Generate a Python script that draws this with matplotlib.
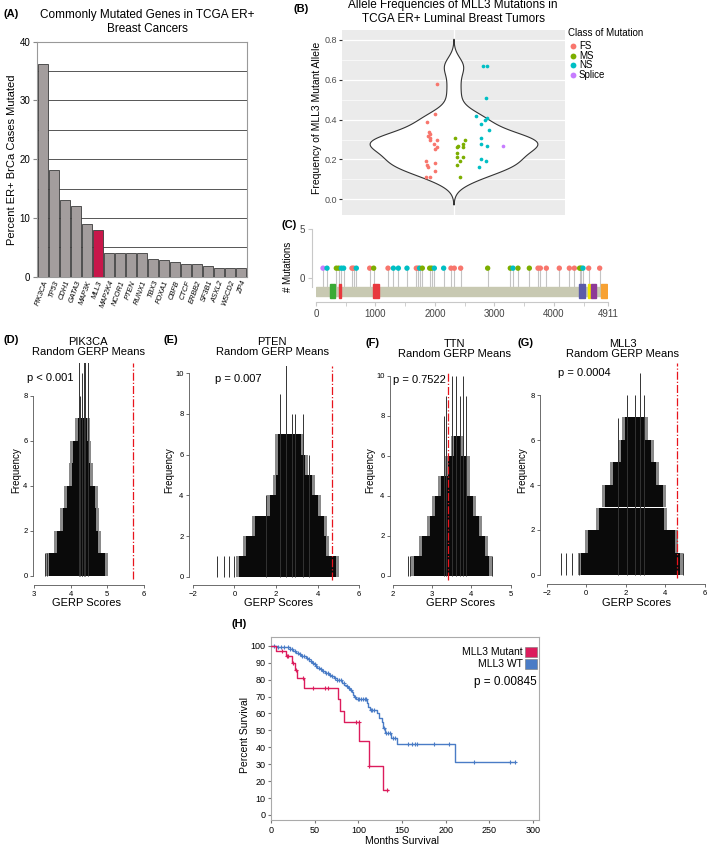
import numpy as np
import matplotlib.pyplot as plt
from matplotlib.patches import Rectangle
from matplotlib.lines import Line2D

plt.rcParams['font.family'] = ['Liberation Sans', 'DejaVu Sans']

W, H = 709, 847

# ---- (A) commonly mutated genes
GENES = ['PIK3CA', 'TP53', 'CDH1', 'GATA3', 'MAP3K', 'MLL3', 'MAP2K4', 'NCOR1', 'PTEN', 'RUNX1',
         'TBX3', 'FOXA1', 'CBFB', 'CTCF', 'ERBB2', 'SF3B1', 'ASXL2', 'WSCD2', 'ZP4']
PCT_MUTATED = [36.2, 18.1, 13.1, 12.1, 9.0, 8.0, 4.0, 4.0, 4.0, 4.0,
               3.0, 2.85, 2.5, 2.1, 2.1, 1.9, 1.5, 1.5, 1.5]

# ---- (B) allele frequencies (value, jitter)
FS_VAF = [0.58, 0.43, 0.39, 0.34, 0.33, 0.32, 0.31, 0.30, 0.30, 0.28, 0.26, 0.25, 0.19, 0.18,
          0.17, 0.16, 0.14, 0.11, 0.11]
FS_JIT = [-0.5, -0.55, -0.8, -0.75, -0.72, -0.77, -0.72, -0.7, -0.5, -0.6, -0.5, -0.55, -0.82,
          -0.55, -0.8, -0.77, -0.55, -0.82, -0.7]
MS_VAF = [0.31, 0.30, 0.28, 0.27, 0.26, 0.26, 0.23, 0.21, 0.21, 0.19, 0.17, 0.11]
MS_JIT = [0.05, 0.35, 0.3, 0.15, 0.12, 0.28, 0.1, 0.1, 0.28, 0.2, 0.1, 0.2]
NS_VAF = [0.67, 0.67, 0.51, 0.42, 0.41, 0.40, 0.38, 0.35, 0.31, 0.28, 0.27, 0.20, 0.19, 0.16]
NS_JIT = [0.9, 1.0, 0.97, 0.68, 1.02, 0.95, 0.82, 1.07, 0.84, 0.82, 1.02, 0.84, 0.97, 0.76]
SPLICE_VAF = [0.27]
SPLICE_JIT = [1.48]
CLASS_COLORS = {'FS': '#F8766D', 'MS': '#7CAE00', 'NS': '#00BFC4', 'Splice': '#C77CFF'}

# ---- (C) lollipop
PROTEIN_LEN = 4911
MUT_POS = [118, 185, 342, 381, 426, 465, 605, 633, 678, 903, 970, 1211, 1301, 1385, 1530,
           1687, 1715, 1743, 1788, 1912, 1945, 1990, 2147, 2270, 2326, 2433, 2887, 3268, 3313,
           3397, 3588, 3734, 3773, 3874, 4092, 4261, 4345, 4434, 4460, 4490, 4586, 4771]
MUT_CLASS = ['Splice', 'NS', 'MS', 'MS', 'NS', 'NS', 'FS', 'FS', 'NS', 'FS', 'MS', 'FS', 'NS',
             'NS', 'NS', 'FS', 'FS', 'NS', 'MS', 'MS', 'MS', 'NS', 'NS', 'FS', 'FS', 'FS', 'MS',
             'MS', 'NS', 'MS', 'MS', 'FS', 'FS', 'FS', 'FS', 'FS', 'FS', 'MS', 'MS', 'NS', 'FS',
             'FS']
MUT_COUNT = [1] * len(MUT_POS)
DOM_START = [241, 381, 959, 4418, 4569, 4630, 4799]
DOM_END = [325, 426, 1054, 4518, 4614, 4703, 4894]
DOM_COLORS = ['#3aaa35', '#e8383d', '#e8383d', '#5b5ba8', '#f2e600', '#8e3a96', '#f7a133']

# ---- (D-G) random GERP means: extent of each count level, spikes, observed mean
D_LO = [3.42, 3.63, 3.80, 3.90, 4.04, 4.06, 4.19]
D_HI = [4.94, 4.74, 4.70, 4.65, 4.53, 4.47, 4.44]
D_SPIKE_X = [3.30, 3.36, 4.22, 4.26, 4.30, 4.35, 4.40, 4.47, 4.32]
D_SPIKE_H = [1, 1, 10, 8, 9, 10, 10, 10, 8]
D_OBS = 5.7

E_LO = [0.2, 0.55, 1.0, 1.7, 2.0, 2.1, 2.1]
E_HI = [4.88, 4.4, 4.3, 4.0, 3.75, 3.4, 3.2]
E_SPIKE_X = [-0.85, -0.5, -0.25, 0.0, 1.5, 2.2, 2.5, 2.75, 2.9, 3.3, 3.6]
E_SPIKE_H = [1, 1, 1, 1, 4, 9, 10.4, 8, 8, 8, 6]
E_OBS = 4.72

F_LO = [2.55, 2.75, 2.95, 3.08, 3.22, 3.40, 3.56]
F_HI = [4.45, 4.35, 4.20, 4.05, 3.90, 3.88, 3.73]
F_SPIKE_X = [2.40, 2.45, 3.30, 3.36, 3.50, 3.62, 3.70, 3.78, 3.86, 4.52]
F_SPIKE_H = [1, 1, 8, 9, 10, 10, 9, 10, 9, 1]
F_OBS = 3.40

G_LO = [-0.25, 0.1, 0.64, 0.95, 1.35, 1.76, 1.95]
G_HI = [4.75, 4.5, 3.95, 3.9, 3.5, 3.28, 2.95]
G_SPIKE_X = [-1.26, -1.0, -0.7, -0.35, 1.6, 2.05, 2.45, 2.7, 2.9, 4.87]
G_SPIKE_H = [1, 1, 1, 1, 7, 8, 8, 9, 8, 1]
G_OBS = 4.6

# ---- (H) Kaplan-Meier
MUT_T = [0, 5.7, 17, 23.5, 27, 30, 37.5, 76.5, 79, 83, 101, 112, 127.7, 133.5]
MUT_S = [100, 97, 93.7, 89.7, 85.4, 80.9, 75.3, 68.6, 61.7, 54.8, 43.8, 29.2, 14.6, 14.6]
MUT_CENS = [13, 18, 20, 25.5, 29, 37, 48, 61.5, 65, 97.5, 100.5, 112.5, 133]
WT_T = [0, 6.5, 16, 21.6, 25.4, 29, 32, 34, 40.5, 42.4, 44, 47, 49, 51, 53, 56, 58, 61.5, 66,
        69, 72, 75, 81, 84, 86, 88.5, 90.5, 92.4, 94, 95.4, 97, 110, 111.5, 113.4, 121.8,
        123.7, 126.7, 128.6, 130.5, 137.4, 144, 210, 279.5]
WT_S = [100, 99.5, 99, 98, 97, 96, 95, 94, 93, 92, 91, 90, 89, 88, 87, 86, 85, 84, 83,
        82, 81, 79.5, 78, 77, 76, 75, 74, 72.5, 71, 70, 68.8, 66, 64, 62, 60,
        57.5, 55, 51.6, 48.5, 45.5, 41.7, 31.5, 31.5]
WT_CENS = [3, 8, 12, 15, 19, 22, 24, 27, 31, 33, 36, 38, 41, 43, 46, 48, 50, 52, 55, 57, 60,
           63, 65, 68, 70, 73, 76, 78, 80, 83, 87, 89, 91, 96, 99, 101, 103, 105, 107, 109,
           114, 116, 118, 129, 132, 134, 136, 140, 142, 157, 161, 165, 167.6, 187, 204,
           232.5, 273.8, 278.7]

RED = '#dc1c5c'
BLUE = '#4a7cc6'

fig = plt.figure(figsize=(W / 100, H / 100), dpi=100)


def px_axes(left, top, right, bottom):
    return fig.add_axes([left / W, 1 - bottom / H, (right - left) / W, (bottom - top) / H])


def ftext(x, y, s, **kw):
    kw.setdefault('va', 'center')
    fig.text(x / W, 1 - y / H, s, **kw)


# ================= (A)
ax = px_axes(36.7, 41.7, 246.7, 276.7)
bar_colors = ['#c8174a' if g == 'MLL3' else '#a39d9d' for g in GENES]
ax.bar(range(len(GENES)), PCT_MUTATED, width=0.9, color=bar_colors, edgecolor='#3a3a3a',
       linewidth=0.6, zorder=3)
for yv in range(5, 40, 5):
    ax.axhline(yv, color='#555555', lw=0.7, zorder=1)
ax.set_xlim(-0.55, len(GENES) - 0.45)
ax.set_ylim(0, 40)
ax.set_yticks([0, 10, 20, 30, 40])
ax.set_xticks(range(len(GENES)))
ax.set_xticklabels(GENES, rotation=70, ha='right', rotation_mode='anchor', fontsize=5.3,
                   style='italic')
ax.tick_params(axis='x', length=0, pad=2)
ax.tick_params(axis='y', labelsize=7, length=3, color='#888888', pad=1.5)
for s in ax.spines.values():
    s.set_color('#999999')
    s.set_linewidth(0.8)
ftext(3, 14, '(A)', fontsize=8, fontweight='bold')
ftext(147, 22, 'Commonly Mutated Genes in TCGA ER+\nBreast Cancers', ha='center', fontsize=8.5,
      linespacing=1.15)
ftext(12, 160, 'Percent ER+ BrCa Cases Mutated', ha='center', rotation=90, fontsize=8)

# ================= (B)
ax = px_axes(342, 30, 565, 215)
ax.set_facecolor('#ebebeb')
vals = np.array(FS_VAF + MS_VAF + NS_VAF + SPLICE_VAF)
iqr = np.quantile(vals, 0.75) - np.quantile(vals, 0.25)
bw = 0.9 * min(vals.std(ddof=1), iqr / 1.34) * len(vals) ** -0.2
grid = np.linspace(vals.min() - 3 * bw, vals.max() + 3 * bw, 400)
dens = np.exp(-0.5 * ((grid[:, None] - vals[None, :]) / bw) ** 2).sum(axis=1)
half = dens / dens.max() * 2.52
ax.fill_betweenx(grid, -half, half, facecolor='white', edgecolor='#333333', lw=0.8, zorder=2)
for cls, v, j in [('FS', FS_VAF, FS_JIT), ('MS', MS_VAF, MS_JIT), ('NS', NS_VAF, NS_JIT),
                  ('Splice', SPLICE_VAF, SPLICE_JIT)]:
    ax.scatter(j, v, s=7, color=CLASS_COLORS[cls], linewidths=0, zorder=3)
ax.set_xlim(-3.35, 3.35)
ax.set_ylim(-0.079, 0.85)
ax.set_yticks([0, 0.2, 0.4, 0.6, 0.8])
ax.set_yticklabels(['0.0', '0.2', '0.4', '0.6', '0.8'])
ax.set_yticks([0.1, 0.3, 0.5, 0.7], minor=True)
ax.set_xticks([0])
ax.set_xticklabels([''])
ax.grid(which='major', color='white', lw=0.9, zorder=0)
ax.grid(which='minor', axis='y', color='white', lw=0.45, zorder=0)
ax.set_axisbelow(True)
ax.tick_params(axis='y', which='major', labelsize=6.5, labelcolor='#4d4d4d', length=2,
               color='#333333', pad=1.5)
ax.tick_params(which='minor', length=0)
ax.tick_params(axis='x', length=0)
for s in ax.spines.values():
    s.set_visible(False)
ftext(293, 9, '(B)', fontsize=8, fontweight='bold')
ftext(453, 12, 'Allele Frequencies of MLL3 Mutations in\nTCGA ER+ Luminal Breast Tumors',
      ha='center', fontsize=8.5, linespacing=1.15)
ftext(317, 118, 'Frequency of MLL3 Mutant Allele', ha='center', rotation=90, fontsize=7.5)
ftext(568, 33, 'Class of Mutation', fontsize=7)
for i, cls in enumerate(['FS', 'MS', 'NS', 'Splice']):
    yy = 46 + i * 9.6
    fig.add_artist(Line2D([572.7 / W], [1 - yy / H], marker='o', ms=4.2, ls='none',
                          color=CLASS_COLORS[cls], markeredgewidth=0,
                          transform=fig.transFigure))
    ftext(579, yy, cls, fontsize=7)

# ================= (C)
ax = px_axes(316, 226, 608, 302)
ax.set_xlim(0, PROTEIN_LEN)
ax.set_ylim(-2.45, 5.3)
ax.add_patch(Rectangle((0, -1.81), PROTEIN_LEN, 0.92, color='#c8c9b2', zorder=1))
for s0, e0, c in zip(DOM_START, DOM_END, DOM_COLORS):
    ax.add_patch(Rectangle((s0, -2.0), e0 - s0, 1.42, color=c, zorder=2))
ax.vlines(MUT_POS, -0.89, MUT_COUNT, color='#c4c4c4', lw=0.8, zorder=0)
ax.scatter(MUT_POS, MUT_COUNT, s=15, c=[CLASS_COLORS[c] for c in MUT_CLASS], linewidths=0,
           zorder=3)
ax.spines['top'].set_visible(False)
ax.spines['right'].set_visible(False)
ax.spines['left'].set_position(('outward', 3))
ax.spines['left'].set_bounds(-0.9, 5)
ax.spines['bottom'].set_bounds(0, PROTEIN_LEN)
for s in ('left', 'bottom'):
    ax.spines[s].set_color('#c8c8c8')
    ax.spines[s].set_linewidth(0.8)
ax.set_yticks([0, 5])
ax.set_xticks([0, 1000, 2000, 3000, 4000, PROTEIN_LEN])
ax.set_xticks(np.arange(500, 4600, 1000), minor=True)
ax.tick_params(labelsize=7, labelcolor='#444444', color='#c8c8c8', length=3, pad=2)
ax.tick_params(which='minor', color='#c8c8c8', length=3)
ftext(282, 225, '(C)', fontsize=8, fontweight='bold')
ftext(288, 267, '# Mutations', ha='center', rotation=90, fontsize=7)

# ================= (D-G)
hist_panels = [
    dict(tag='(D)', gene='PIK3CA', p='p < 0.001', lo=D_LO, hi=D_HI, sx=D_SPIKE_X, sh=D_SPIKE_H,
         obs=D_OBS, box=(33, 363, 150, 585), xmap=(3, 34, 36.67), ymap=(0, 575.7, 22.5),
         xt=[3, 4, 5, 6], yt=[0, 2, 4, 6, 8], tag_x=3, tag_y=340, tx=88, ty=347,
         px=27, py=378, fx=16, gx=87),
    dict(tag='(E)', gene='PTEN', p='p = 0.007', lo=E_LO, hi=E_HI, sx=E_SPIKE_X, sh=E_SPIKE_H,
         obs=E_OBS, box=(189, 366, 362, 585), xmap=(-2, 193, 20.75), ymap=(0, 576.7, 20.34),
         xt=[-2, 0, 2, 4, 6], yt=[0, 2, 4, 6, 8, 10], tag_x=163, tag_y=340, tx=272, ty=347,
         px=215, py=379, fx=169, gx=278),
    dict(tag='(F)', gene='TTN', p='p = 0.7522', lo=F_LO, hi=F_HI, sx=F_SPIKE_X, sh=F_SPIKE_H,
         obs=F_OBS, box=(390, 372, 515, 585), xmap=(2, 392.7, 39.33), ymap=(0, 576, 20.03),
         xt=[2, 3, 4, 5], yt=[0, 2, 4, 6, 8, 10], tag_x=365, tag_y=343, tx=454, ty=349,
         px=393, py=380, fx=370, gx=460),
    dict(tag='(G)', gene='MLL3', p='p = 0.0004', lo=G_LO, hi=G_HI, sx=G_SPIKE_X, sh=G_SPIKE_H,
         obs=G_OBS, box=(540, 363, 708, 584), xmap=(-2, 546.7, 19.79), ymap=(0, 575, 22.5),
         xt=[-2, 0, 2, 4, 6], yt=[0, 2, 4, 6, 8], tag_x=517, tag_y=343, tx=623, ty=349,
         px=558, py=373, fx=522, gx=637),
]
for hp in hist_panels:
    left, top, right, bottom = hp['box']
    ax = px_axes(left, top, right, bottom)
    x0, p0, sx = hp['xmap']
    y0, q0, sy = hp['ymap']
    ax.set_xlim(x0 + (left - p0) / sx, x0 + (right - p0) / sx)
    ax.set_ylim(y0 + (q0 - bottom) / sy, y0 + (q0 - top) / sy)
    fringe = 3.0 / sx
    levels = np.arange(len(hp['lo']))
    lo = np.array(hp['lo'])
    hi = np.array(hp['hi'])
    ax.bar(lo - fringe, 1, width=hi - lo + 2 * fringe, bottom=levels, align='edge',
           color='#8a8a8a', linewidth=0, zorder=1)
    ax.bar(lo, 1, width=hi - lo, bottom=levels, align='edge', color='#0a0a0a', linewidth=0,
           zorder=2)
    ax.vlines(hp['sx'], 0, hp['sh'], color='#333333', lw=0.7, zorder=2)
    ax.vlines(hp['obs'], ax.get_ylim()[0] + 0.25, ax.get_ylim()[1], color='#e8141c', lw=0.9,
              linestyles='-.', zorder=3)
    ax.spines['top'].set_visible(False)
    ax.spines['right'].set_visible(False)
    ax.spines['left'].set_bounds(hp['yt'][0], hp['yt'][-1])
    ax.spines['bottom'].set_bounds(hp['xt'][0], hp['xt'][-1])
    for s in ('left', 'bottom'):
        ax.spines[s].set_color('#555555')
        ax.spines[s].set_linewidth(0.6)
    ax.set_xticks(hp['xt'])
    ax.set_yticks(hp['yt'])
    ax.tick_params(labelsize=5.5, length=2.5, width=0.6, color='#555555', pad=1.5)
    ftext(hp['tag_x'], hp['tag_y'], hp['tag'], fontsize=8, fontweight='bold')
    ftext(hp['tx'], hp['ty'], hp['gene'] + '\nRandom GERP Means', ha='center', fontsize=8,
          linespacing=1.1)
    ftext(hp['px'], hp['py'], hp['p'], fontsize=8)
    ftext(hp['fx'], 470, 'Frequency', ha='center', rotation=90, fontsize=7)
    ftext(hp['gx'], 603, 'GERP Scores', ha='center', fontsize=8)

# ================= (H)
ax = px_axes(271, 637.3, 539.3, 820)
ax.set_xlim(0, 307)
ax.set_ylim(-3, 105)


def surv_at(times, surv, t):
    idx = np.searchsorted(times, t, side='right') - 1
    return np.asarray(surv)[idx]


ax.step(WT_T, WT_S, where='post', color=BLUE, lw=1.0, zorder=2)
ax.plot(WT_CENS, surv_at(WT_T, WT_S, WT_CENS), ls='none', marker='+', ms=3.2, mew=0.8,
        color=BLUE, zorder=2)
ax.step(MUT_T, MUT_S, where='post', color=RED, lw=1.0, zorder=3)
ax.plot(MUT_CENS, surv_at(MUT_T, MUT_S, MUT_CENS), ls='none', marker='+', ms=3.2, mew=0.8,
        color=RED, zorder=3)
ax.set_xticks(range(0, 301, 50))
ax.set_yticks(range(0, 101, 10))
ax.tick_params(labelsize=6.5, length=2.5, color='#777777', pad=1.5)
for s in ax.spines.values():
    s.set_color('#aaaaaa')
    s.set_linewidth(0.8)
ftext(232, 624, '(H)', fontsize=8, fontweight='bold')
ftext(245, 735, 'Percent Survival', ha='center', rotation=90, fontsize=7.5)
ftext(402, 841, 'Months Survival', ha='center', fontsize=7.5)
for yy, lab, col in [(651.7, 'MLL3 Mutant', RED), (664.3, 'MLL3 WT', BLUE)]:
    ftext(523, yy, lab, ha='right', fontsize=7.5)
    fig.add_artist(Rectangle((525 / W, 1 - (yy + 5) / H), 11.5 / W, 10 / H, facecolor=col,
                             edgecolor='#777777', lw=0.4, transform=fig.transFigure))
ftext(536.7, 681.7, 'p = 0.00845', ha='right', fontsize=8.5)

fig.savefig('out.png', dpi=100)
